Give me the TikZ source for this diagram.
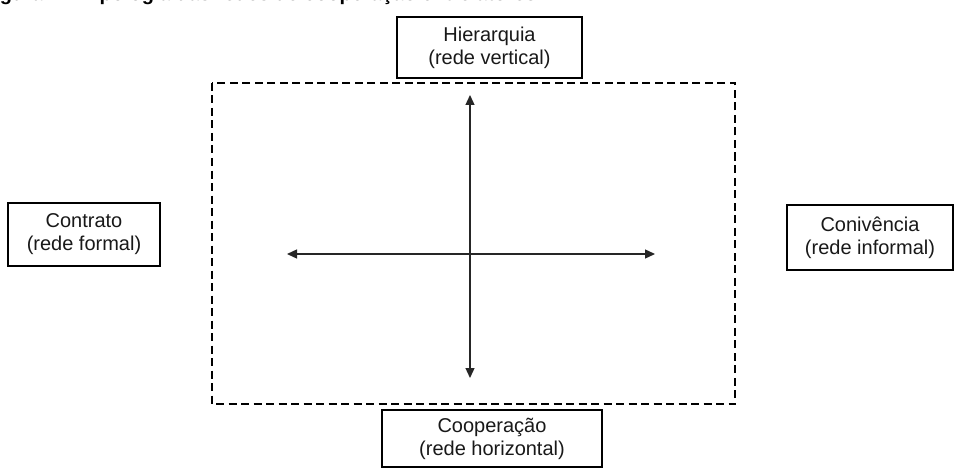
\documentclass[tikz,border=0pt]{standalone}
\usepackage{fontspec}
\setmainfont{Liberation Sans}
\usetikzlibrary{arrows.meta}
\tikzset{
  labelbox/.style={draw=black, line width=1.3pt, inner sep=0pt, align=center,
    font=\fontsize{20}{23}\selectfont, text=black!90},
  frame/.style={draw=black, line width=1.4pt, dash pattern=on 8pt off 4.5pt},
  axis/.style={draw=black!85, line width=1.3pt, {Triangle[length=10pt,width=9pt]}-{Triangle[length=10pt,width=9pt]}},
}
\begin{document}
\begin{tikzpicture}[x=1pt,y=-1pt]
\useasboundingbox (0,0) rectangle (961,468);
\fill[white] (0,0) rectangle (961,468);
\begin{scope}
\clip (0,0) rectangle (961,468);
\node[anchor=base west, inner sep=0pt, font=\bfseries\fontsize{20}{24}\selectfont] (title) at (-18,0.5) {Figura 1 – Tipologia das redes de cooperação entre atores};
\end{scope}
% dashed frame
\draw[frame] (212,83) rectangle (735,404);
% boxes
\node[labelbox, minimum width=185pt, minimum height=61pt] (hier) at (489.5,47.5) {Hierarquia\\(rede vertical)};
\node[labelbox, minimum width=220pt, minimum height=57pt] (coop) at (492,438.5) {Cooperação\\(rede horizontal)};
\node[labelbox, minimum width=152pt, minimum height=63pt] (contr) at (84,234.5) {Contrato\\(rede formal)};
\node[labelbox, minimum width=166pt, minimum height=65pt] (coniv) at (870,237.5) {Conivência\\(rede informal)};
% axes
\coordinate (vtop) at (470,95);
\coordinate (vbot) at (470,378);
\coordinate (hleft) at (287,254);
\coordinate (hright) at (655,254);
\draw[axis] (hleft) -- (hright);
\draw[axis] (vtop) -- (vbot);
\end{tikzpicture}
\end{document}
